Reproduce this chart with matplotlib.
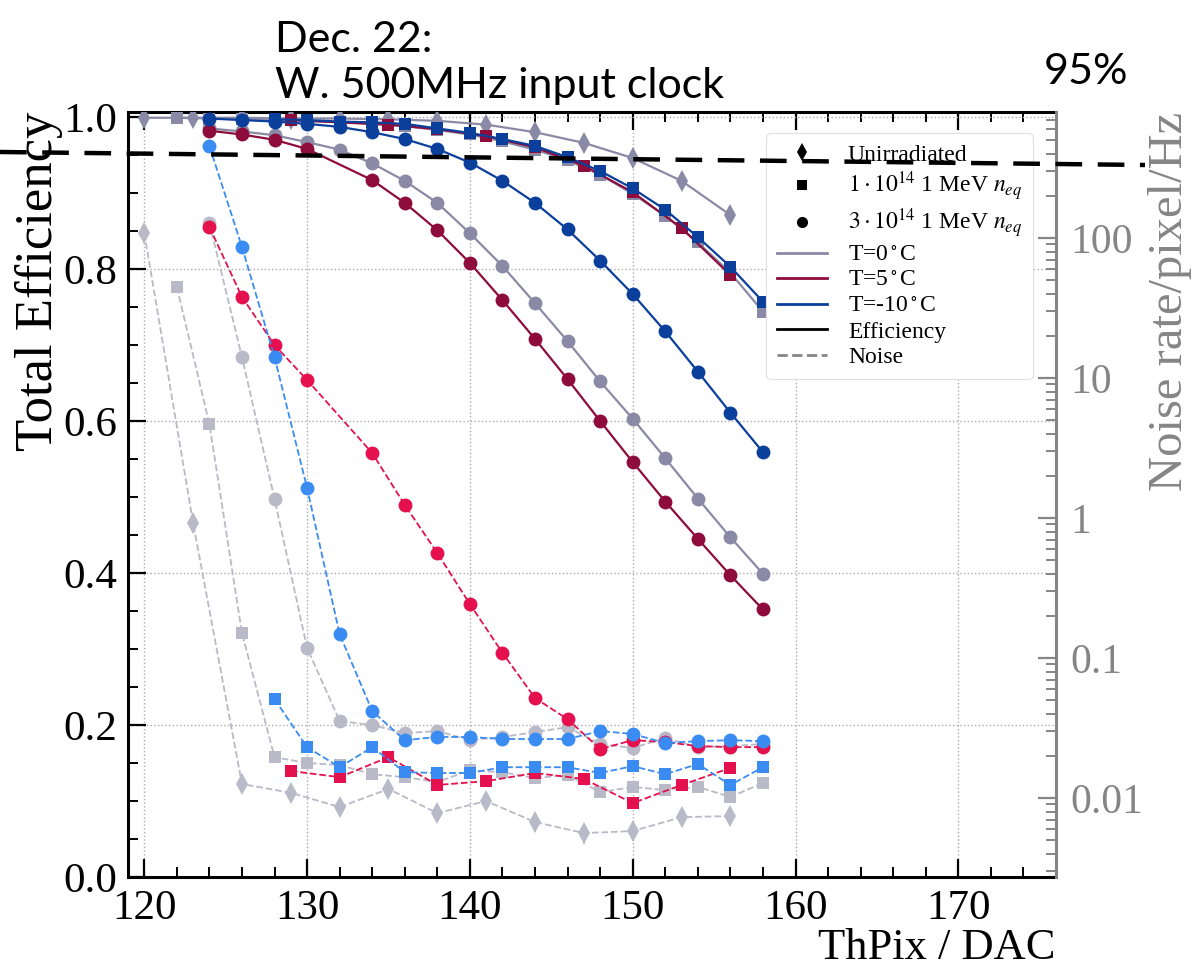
import matplotlib
matplotlib.use("Agg")
import matplotlib.pyplot as plt
from matplotlib.lines import Line2D
from matplotlib.ticker import MultipleLocator, FixedLocator, FuncFormatter, LogLocator, NullFormatter

# ---------------- data ----------------
# Unirradiated, T=0C (diamonds)
unirr_x = [120, 123, 126, 129, 132, 135, 138, 141, 144, 147, 150, 153, 156]
unirr_eff = [0.999, 0.999, 0.999, 0.998, 0.998, 0.997, 0.995, 0.990, 0.980, 0.966, 0.946, 0.916, 0.871]
unirr_noise = [108.6, 0.92, 0.0126, 0.0109, 0.00863, 0.0116, 0.00781, 0.00952, 0.00674, 0.00562, 0.00581, 0.00731, 0.00743]
unirr_noise_err = [0, 0, 0.0015, 0.0013, 0.0012, 0.0014, 0.0011, 0.0013, 0.0010, 0.0009, 0.0009, 0.0011, 0.0011]

# 1e14, T=0C (squares)
f1_t0_x = [122, 124, 126, 128, 130, 132, 134, 136, 138, 140, 142, 144, 146, 148, 150, 152, 154, 156, 158]
f1_t0_eff = [0.999, 0.998, 0.997, 0.996, 0.995, 0.993, 0.991, 0.988, 0.983, 0.977, 0.968, 0.957, 0.943, 0.924, 0.899, 0.870, 0.835, 0.795, 0.744]
f1_t0_noise = [44.7, 4.69, 0.151, 0.0196, 0.0178, 0.0172, 0.0148, 0.0141, 0.0130, 0.0158, 0.0153, 0.0139, 0.0146, 0.0110, 0.0120, 0.0114, 0.0120, 0.0102, 0.0128]

# 1e14, T=5C (squares)
f1_t5_x = [129, 132, 135, 138, 141, 144, 147, 150, 153, 156]
f1_t5_eff = [0.996, 0.993, 0.990, 0.984, 0.975, 0.960, 0.936, 0.901, 0.854, 0.792]
f1_t5_noise = [0.0156, 0.0141, 0.0196, 0.0124, 0.0132, 0.0151, 0.0137, 0.0092, 0.0124, 0.0164]

# 1e14, T=-10C (squares)
f1_tm10_x = [128, 130, 132, 134, 136, 138, 140, 142, 144, 146, 148, 150, 152, 154, 156, 158]
f1_tm10_eff = [0.997, 0.996, 0.994, 0.993, 0.991, 0.985, 0.979, 0.971, 0.962, 0.947, 0.929, 0.906, 0.878, 0.842, 0.803, 0.757]
f1_tm10_noise = [0.0509, 0.0231, 0.0166, 0.0231, 0.0153, 0.0151, 0.0151, 0.0166, 0.0166, 0.0166, 0.0151, 0.0169, 0.0148, 0.0175, 0.0124, 0.0166]

# 3e14, T=0C (circles)
f3_t0_x = [124, 126, 128, 130, 132, 134, 136, 138, 140, 142, 144, 146, 148, 150, 152, 154, 156, 158]
f3_t0_eff = [0.985, 0.981, 0.976, 0.967, 0.957, 0.939, 0.916, 0.887, 0.847, 0.804, 0.755, 0.705, 0.652, 0.603, 0.551, 0.498, 0.447, 0.399]
f3_t0_noise = [128, 14.1, 1.37, 0.118, 0.0355, 0.0332, 0.0291, 0.0301, 0.0259, 0.0273, 0.0296, 0.0321, 0.0243, 0.0228, 0.0268, 0.0231, 0.0235, 0.0243]

# 3e14, T=5C (circles)
f3_t5_x = [124, 126, 128, 130, 134, 136, 138, 140, 142, 144, 146, 148, 150, 152, 154, 156, 158]
f3_t5_eff = [0.982, 0.977, 0.970, 0.958, 0.917, 0.887, 0.851, 0.808, 0.759, 0.708, 0.655, 0.600, 0.546, 0.494, 0.445, 0.397, 0.352]
f3_t5_noise = [120, 37.9, 17.2, 9.68, 2.91, 1.24, 0.562, 0.243, 0.109, 0.0518, 0.0366, 0.0224, 0.0259, 0.0251, 0.0235, 0.0231, 0.0231]

# 3e14, T=-10C (circles)
f3_tm10_x = [124, 126, 128, 130, 132, 134, 136, 138, 140, 142, 144, 146, 148, 150, 152, 154, 156, 158]
f3_tm10_eff = [0.998, 0.996, 0.994, 0.991, 0.987, 0.980, 0.971, 0.958, 0.940, 0.916, 0.887, 0.852, 0.811, 0.767, 0.718, 0.665, 0.611, 0.559]
f3_tm10_noise = [454, 86.3, 14.1, 1.64, 0.148, 0.0418, 0.0259, 0.0273, 0.0273, 0.0264, 0.0264, 0.0264, 0.0301, 0.0287, 0.0247, 0.0255, 0.0259, 0.0255]

x_ticks = [120, 130, 140, 150, 160, 170]
y_ticks = [0.0, 0.2, 0.4, 0.6, 0.8, 1.0]
noise_ticks = [0.01, 0.1, 1, 10, 100]

# ---------------- style ----------------
plt.rcParams['font.family'] = ['Liberation Serif', 'DejaVu Serif']
plt.rcParams['mathtext.fontset'] = 'stix'

C_T0 = '#8a8aa6'
C_T5 = '#8e0c3c'
C_TM10 = '#0b3f9c'
N_T0 = '#b9b9c8'
N_T5 = '#e5104e'
N_TM10 = '#3a8cf2'
GRAY = '#858585'

fig = plt.figure(figsize=(11.92, 9.69), dpi=100)
ax = fig.add_axes([128/1192, 1-877/969, (1056-128)/1192, (877-112)/969])
ax2 = ax.twinx()

eff_lw = 1.6
noi_lw = 1.3
ms_c = 10
ms_s = 9
ms_d = 11

def eff(x, y, c, m, ms):
    ax.plot(x, y, color=c, marker=m, ms=ms, mew=0, lw=eff_lw, zorder=3)

def noi(x, y, c, m, ms, err=None):
    if err is None:
        ax2.plot(x, y, color=c, marker=m, ms=ms, mew=0, lw=noi_lw, ls='--', zorder=3)
    else:
        ax2.errorbar(x, y, yerr=err, color=c, marker=m, ms=ms, mew=0, lw=noi_lw, ls='--',
                     elinewidth=1.3, capsize=4, capthick=1.3, zorder=3)

# efficiency curves
eff(unirr_x, unirr_eff, C_T0, 'd', ms_d)
eff(f1_t0_x, f1_t0_eff, C_T0, 's', ms_s)
eff(f1_t5_x, f1_t5_eff, C_T5, 's', ms_s)
eff(f1_tm10_x, f1_tm10_eff, C_TM10, 's', ms_s)
eff(f3_t0_x, f3_t0_eff, C_T0, 'o', ms_c)
eff(f3_t5_x, f3_t5_eff, C_T5, 'o', ms_c)
eff(f3_tm10_x, f3_tm10_eff, C_TM10, 'o', ms_c)

# noise curves
noi(unirr_x, unirr_noise, N_T0, 'd', ms_d, unirr_noise_err)
noi(f1_t0_x, f1_t0_noise, N_T0, 's', ms_s)
noi(f3_t0_x, f3_t0_noise, N_T0, 'o', ms_c)
noi(f1_t5_x, f1_t5_noise, N_T5, 's', ms_s)
noi(f3_t5_x, f3_t5_noise, N_T5, 'o', ms_c)
noi(f1_tm10_x, f1_tm10_noise, N_TM10, 's', ms_s)
noi(f3_tm10_x, f3_tm10_noise, N_TM10, 'o', ms_c)

# axes limits
ax.set_xlim(119.0, 176.0)
ax.set_ylim(0.0, 1.0066)
ax2.set_yscale('log')
ax2.set_ylim(0.00273, 794)

# ticks left/bottom/top
ax.xaxis.set_major_locator(FixedLocator(x_ticks))
ax.xaxis.set_minor_locator(MultipleLocator(2))
ax.yaxis.set_major_locator(FixedLocator(y_ticks))
ax.yaxis.set_minor_locator(MultipleLocator(0.05))
ax.set_yticklabels([f"{v:.1f}" for v in y_ticks])
ax.tick_params(which='both', direction='in', top=True, right=False, labelsize=31, pad=8)
ax.tick_params(which='major', length=13, width=1.6)
ax.tick_params(which='minor', length=7, width=1.4)
ax.tick_params(axis='x', pad=9)
for s in ['left', 'bottom', 'top']:
    ax.spines[s].set_linewidth(2.2)
ax.spines['right'].set_visible(False)
ax.grid(True, which='major', ls=':', color='#aaaaaa', lw=1.0)

# right log axis
ax2.yaxis.set_major_locator(FixedLocator(noise_ticks))
ax2.yaxis.set_major_formatter(FuncFormatter(lambda v, p: f"{v:g}"))
ax2.yaxis.set_minor_locator(LogLocator(base=10, subs=range(2, 10)))
ax2.yaxis.set_minor_formatter(NullFormatter())
ax2.tick_params(which='both', direction='in', colors=GRAY, labelsize=30, pad=10)
ax2.tick_params(which='major', length=13, width=1.6)
ax2.tick_params(which='minor', length=7, width=1.4)
ax2.spines['right'].set_color(GRAY)
ax2.spines['right'].set_linewidth(2.2)
for s in ['left', 'bottom', 'top']:
    ax2.spines[s].set_visible(False)

# labels
ax.set_ylabel('Total Efficiency', fontsize=38, loc='top', labelpad=0)
ax.set_xlabel('ThPix / DAC', fontsize=32, loc='right', labelpad=0)
ax2.set_ylabel('Noise rate/pixel/Hz', fontsize=35, loc='top', color=GRAY, labelpad=4)

# legend
handles = [
    Line2D([], [], color='k', marker='d', ls='none', ms=9, mew=0, label='Unirradiated'),
    Line2D([], [], color='k', marker='s', ls='none', ms=7, mew=0, label=r'$1\cdot10^{14}$ 1 MeV $n_{eq}$'),
    Line2D([], [], color='k', marker='o', ls='none', ms=8, mew=0, label=r'$3\cdot10^{14}$ 1 MeV $n_{eq}$'),
    Line2D([], [], color=C_T0, lw=2, label=r'T=0$^\circ$C'),
    Line2D([], [], color=C_T5, lw=2, label=r'T=5$^\circ$C'),
    Line2D([], [], color=C_TM10, lw=2, label=r'T=-10$^\circ$C'),
    Line2D([], [], color='k', lw=2, label='Efficiency'),
    Line2D([], [], color=GRAY, lw=2, ls='--', label='Noise'),
]
leg = ax2.legend(handles=handles, loc='upper right', bbox_to_anchor=(0.975, 0.972),
                 fontsize=17, frameon=True, framealpha=1.0, edgecolor='#e0e0e0',
                 fancybox=True, labelspacing=0.17, handlelength=2.1, borderpad=0.45,
                 handletextpad=0.9, borderaxespad=0)
leg.get_frame().set_linewidth(0.8)

# annotations (added on top of the chart)
fig.text(275/1192, 1-40/969, 'Dec. 22:', family=['Lato', 'DejaVu Sans'], fontsize=31, va='center', ha='left')
fig.text(275/1192, 1-86/969, 'W. 500MHz input clock', family=['Lato', 'DejaVu Sans'], fontsize=31, va='center', ha='left')
fig.text(1128/1192, 1-72/969, '95%', family=['Lato', 'DejaVu Sans'], fontsize=31, va='center', ha='right')

fig.add_artist(Line2D([0.0, 1145/1192], [1-152/969, 1-165/969], transform=fig.transFigure,
                      color='k', lw=3.2, ls=(0, (6, 3.5)), zorder=20))

fig.savefig('out.png', dpi=100)
